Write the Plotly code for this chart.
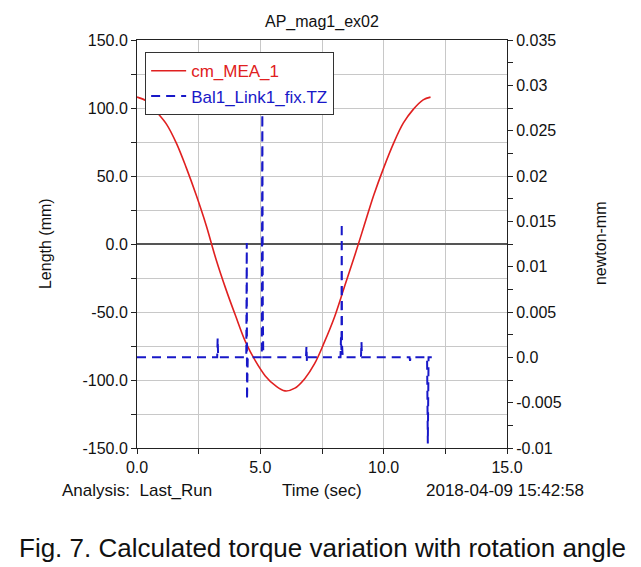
import plotly.graph_objects as go

# Red curve: cm_MEA_1 (Length, mm) vs time (s)
red_t = [0.0, 0.4, 0.8, 1.2, 1.6, 2.0, 2.4, 2.8, 3.2, 3.6, 4.0, 4.4, 4.8, 5.2, 5.6, 6.0,
         6.4, 6.8, 7.2, 7.6, 8.0, 8.4, 8.8, 9.2, 9.6, 10.0, 10.4, 10.8, 11.2, 11.6, 11.9]
red_v = [108, 105, 97, 88, 74, 56, 36, 14, -11, -33, -53, -72, -86, -97, -104, -108,
         -106, -99, -88, -72, -54, -32, -10, 13, 36, 56, 74, 89, 99, 106, 108]

# Blue dashed: Bal1_Link1_fix.TZ (newton-mm) vs time (s)
blue_t = [0.0, 3.25, 3.27, 3.29, 4.43, 4.45, 4.46, 4.47, 4.49, 5.06, 5.08, 5.10, 5.12,
          6.85, 6.87, 6.89, 6.91, 8.25, 8.27, 8.29, 8.30, 8.31, 8.33, 8.35,
          9.08, 9.10, 9.12, 11.05, 11.07, 11.09, 11.76, 11.79, 11.82, 11.95]
blue_v = [0.0, 0.0, 0.0021, 0.0, 0.0, 0.0126, -0.0047, 0.0, 0.0, 0.0, 0.0285, 0.005, 0.0,
          0.0, 0.0012, -0.0005, 0.0, 0.0, 0.0022, 0.0008, 0.0148, 0.0015, 0.0005, 0.0,
          0.0, 0.0017, 0.0, 0.0, -0.0004, 0.0, 0.0, -0.0095, 0.0, 0.0]

x_ticks = [0, 2.5, 5, 7.5, 10, 12.5, 15]
x_labels = ["0.0", "", "5.0", "", "10.0", "", "15.0"]
y_ticks = [-150, -125, -100, -75, -50, -25, 0, 25, 50, 75, 100, 125, 150]
y_labels = ["-150.0", "", "-100.0", "", "-50.0", "", "0.0", "", "50.0", "", "100.0", "", "150.0"]
y2_ticks = [-0.01, -0.0075, -0.005, -0.0025, 0.0, 0.0025, 0.005, 0.0075, 0.01, 0.0125,
            0.015, 0.0175, 0.02, 0.0225, 0.025, 0.0275, 0.03, 0.0325, 0.035]
y2_labels = ["-0.01", "", "-0.005", "", "0.0", "", "0.005", "", "0.01", "",
             "0.015", "", "0.02", "", "0.025", "", "0.03", "", "0.035"]

FONT = "Liberation Sans, Arial, sans-serif"
RED = "#e02020"
BLUE = "#1818c8"
TXT = "#111111"

fig = go.Figure()
fig.add_trace(go.Scatter(x=red_t, y=red_v, mode="lines", line=dict(color=RED, width=1.6, shape="spline"),
                         name="<span style='color:#e02020'>cm_MEA_1</span>"))
fig.add_trace(go.Scatter(x=blue_t, y=blue_v, mode="lines", yaxis="y2",
                         line=dict(color=BLUE, width=2, dash="9px,6px"),
                         name="<span style='color:#1818c8'>Bal1_Link1_fix.TZ</span>"))

axis_common = dict(showline=True, linecolor="#222", linewidth=1, ticks="outside", ticklen=5,
                   tickcolor="#222", tickfont=dict(family=FONT, size=16, color=TXT))

fig.update_layout(
    width=633, height=559,
    margin=dict(l=129, r=134, t=32, b=119, autoexpand=False),
    paper_bgcolor="white", plot_bgcolor="white",
    font=dict(family=FONT, size=16, color=TXT),
    showlegend=True,
    legend=dict(x=0.022, y=0.97, xanchor="left", yanchor="top", bgcolor="white",
                bordercolor="#333", borderwidth=1, font=dict(family=FONT, size=17),
                tracegroupgap=0, itemwidth=35),
    xaxis=dict(range=[0, 15], tickvals=x_ticks, ticktext=x_labels, showgrid=True,
               gridcolor="#c8c8c8", gridwidth=1, zeroline=False, mirror=True, **axis_common),
    yaxis=dict(range=[-150, 150], tickvals=y_ticks, ticktext=y_labels, showgrid=True,
               gridcolor="#c8c8c8", gridwidth=1, zeroline=True, zerolinecolor="#555",
               zerolinewidth=1.5, **axis_common),
    yaxis2=dict(range=[-0.01, 0.035], tickvals=y2_ticks, ticktext=y2_labels, overlaying="y",
                side="right", showgrid=False, zeroline=False, **axis_common),
)

def note(text, x, y, size=16, angle=0):
    fig.add_annotation(text=text, x=x, xref="paper", y=y, yref="paper", xanchor="center",
                       yanchor="middle", showarrow=False, textangle=angle,
                       font=dict(family=FONT, size=size, color=TXT))

note("AP_mag1_ex02", 0.5, 1.045, 16)
note("Length (mm)", -0.249, 0.502, 16, -90)
note("newton-mm", 1.251, 0.502, 16, -90)
note("Analysis:  Last_Run", 0.0, -0.103, 17)
note("Time (sec)", 0.5, -0.103, 17)
note("2018-04-09 15:42:58", 0.995, -0.103, 17)
note("Fig. 7. Calculated torque variation with rotation angle", 0.5, -0.245, 26)

fig.write_html("out.html")
